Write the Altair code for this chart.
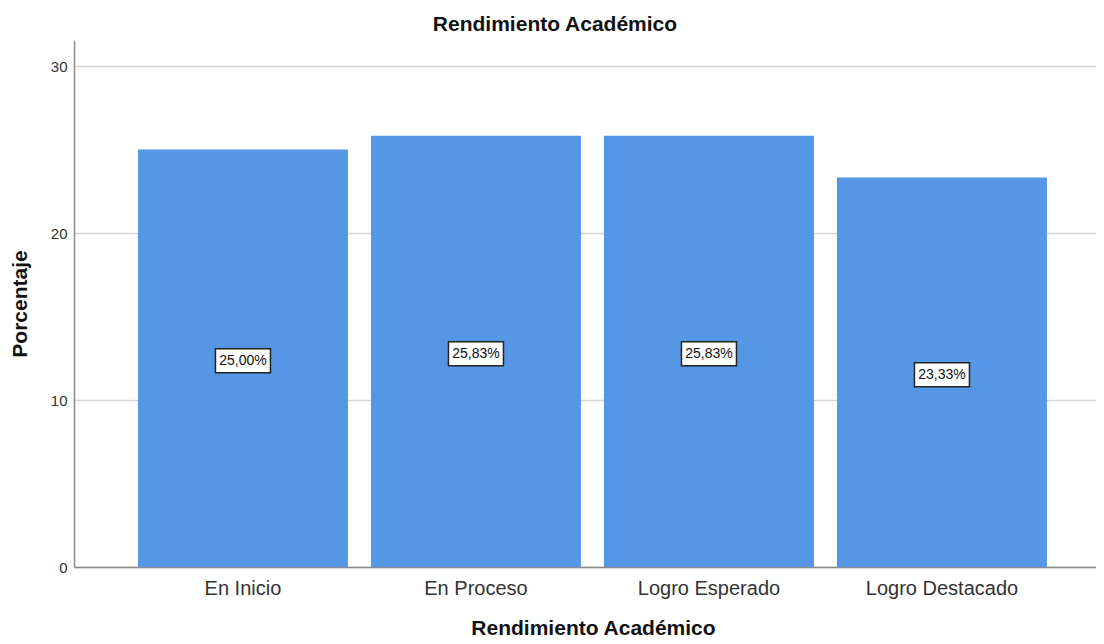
import altair as alt
import pandas as pd

categories = ["En Inicio", "En Proceso", "Logro Esperado", "Logro Destacado"]
values = [25.00, 25.83, 25.83, 23.33]
labels = [f"{v:.2f}".replace(".", ",") + "%" for v in values]

df = pd.DataFrame({"cat": categories, "val": values, "lab": labels})
df["mid"] = df["val"] / 2

FONT = "Liberation Sans"
BAR = "#5596E5"

x_scale = alt.Scale(domain=categories, paddingInner=0.0987, paddingOuter=0.2425, align=0.566)
y_scale = alt.Scale(domain=[0, 31.56], nice=False, zero=True)

base = alt.Chart(df)

bars = base.mark_bar(color=BAR).encode(
    x=alt.X("cat:N", scale=x_scale, sort=categories,
            axis=alt.Axis(title="Rendimiento Académico", labelAngle=0, ticks=False,
                          labelPadding=11, labelFontSize=20, labelColor="#333333",
                          labelFont=FONT, titleFont=FONT, titleFontSize=21,
                          titleFontWeight="bold", titleColor="#111111",
                          titleBaseline="alphabetic", titleY=67, titleX=519,
                          domainColor="#8a8a8a", domainWidth=1.5, grid=False)),
    y=alt.Y("val:Q", scale=y_scale,
            axis=alt.Axis(title="Porcentaje", values=[0, 10, 20, 30], ticks=False,
                          labelPadding=7, labelFontSize=15, labelColor="#333333",
                          labelFont=FONT, titleFont=FONT, titleFontSize=21,
                          titleFontWeight="bold", titleColor="#111111",
                          titleX=-54, titleBaseline="middle",
                          domainColor="#8a8a8a", domainWidth=1.5,
                          grid=True, gridColor="#d6d6d6", gridWidth=1.5)),
)

boxes = base.mark_point(
    shape="M-1,-0.436L1,-0.436L1,0.436L-1,0.436Z",
    size=3025, filled=True, fill="white", stroke="#222222", strokeWidth=1.5, opacity=1,
    yOffset=2.5,
).encode(
    x=alt.X("cat:N", scale=x_scale, sort=categories),
    y=alt.Y("mid:Q", scale=y_scale),
)

texts = base.mark_text(font=FONT, fontSize=14, color="#111111", baseline="middle",
                       yOffset=2.5).encode(
    x=alt.X("cat:N", scale=x_scale, sort=categories),
    y=alt.Y("mid:Q", scale=y_scale),
    text="lab:N",
)

chart = alt.layer(bars, boxes, texts).properties(
    width=1022,
    height=527,
    view=alt.ViewBackground(stroke="transparent", strokeWidth=0),
    title=alt.TitleParams("Rendimiento Académico", font=FONT, fontSize=21,
                          fontWeight="bold", color="#111111", anchor="middle",
                          frame="group", dx=-30, dy=22, offset=10, baseline="alphabetic"),
    autosize=alt.AutoSizeParams(type="none"),
    padding={"left": 66, "top": 32, "right": 0, "bottom": 71},
).configure_view(stroke="transparent", strokeWidth=0).configure(background="white")

chart.save("out.html", embed_options={"renderer": "svg", "actions": False})
